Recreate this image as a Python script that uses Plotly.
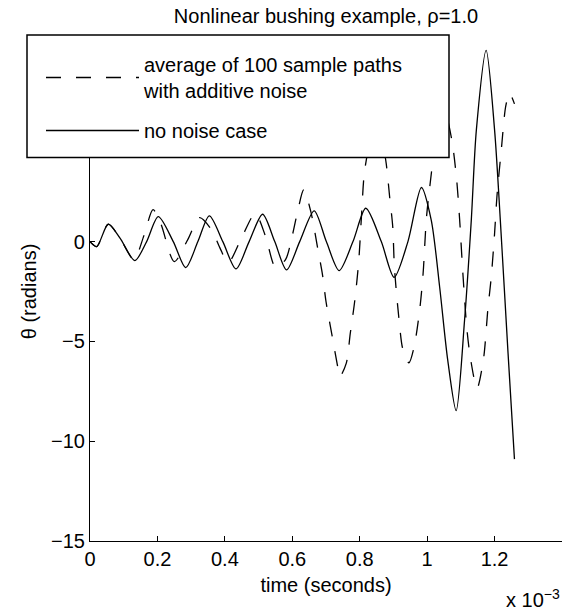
import plotly.graph_objects as go

# ---- data (time in units of 1e-3 s, angle in radians) ----
t_clean = [0, 0.02, 0.054, 0.089, 0.133, 0.168, 0.2025, 0.247, 0.284, 0.32, 0.354,
           0.394, 0.433, 0.472, 0.512, 0.548, 0.583, 0.622, 0.665, 0.701, 0.739,
           0.78, 0.818, 0.864, 0.902, 0.943, 0.983, 1.012, 1.037, 1.061, 1.086,
           1.111, 1.131, 1.146, 1.175, 1.2, 1.217, 1.24, 1.259]
theta_clean = [0, -0.25, 0.87, 0.17, -0.95, 0.0, 1.25, 0.0, -1.3, 0.0, 1.29,
               0.0, -1.37, 0.0, 1.37, 0.0, -1.42, 0.0, 1.54, 0.0, -1.45,
               0.0, 1.67, 0.0, -1.79, 0.0, 2.71, 1.09, -2.26, -5.93, -8.47,
               -3.93, 1.09, 5.6, 9.58, 5.6, 1.09, -5.6, -10.9]

t_noise = [0, 0.02, 0.054, 0.089, 0.13, 0.16, 0.187, 0.21, 0.25, 0.29, 0.325,
           0.36, 0.385, 0.41, 0.45, 0.49, 0.52, 0.551, 0.58, 0.6, 0.617, 0.634,
           0.655, 0.675, 0.69, 0.70, 0.72, 0.735, 0.741, 0.76, 0.772, 0.785,
           0.797, 0.806, 0.815, 0.85, 0.877, 0.889, 0.898, 0.903, 0.916, 0.928,
           0.946, 0.961, 0.978, 0.988, 0.998, 1.013, 1.04, 1.072, 1.087, 1.096,
           1.106, 1.118, 1.129, 1.148, 1.167, 1.18, 1.19, 1.2, 1.207, 1.22,
           1.233, 1.244, 1.259]
theta_noise = [0, -0.25, 0.87, 0.17, -0.9, 0.3, 1.6, 0.9, -1.0, 0.1, 1.2,
               0.6, -0.3, -1.05, 0.2, 1.4, 0.3, -1.3, -0.9, 0.3, 1.6, 2.6,
               1.5, -0.3, -1.7, -3.0, -4.9, -6.3, -6.77, -6.1, -4.6, -3.0,
               -1.0, 1.5, 3.6, 6.3, 4.1, 2.2, 0.74, -1.3, -3.8, -5.4,
               -6.07, -5.3, -3.4, -1.6, 1.2, 3.5, 7.3, 5.2, 3.2, 1.2,
               -1.6, -4.4, -5.9, -7.35, -5.9, -3.4, -1.8, 0.4, 2.26, 4.6,
               6.77, 7.44, 6.9]

x_ticks = [0, 0.2, 0.4, 0.6, 0.8, 1.0, 1.2]
y_ticks = [-15, -10, -5, 0, 5, 10]

name_noise = "average of 100 sample paths<br>with additive noise"
name_clean = "no noise case"
title_text = "Nonlinear bushing example, \u03c1=1.0"

# ---- layout geometry (pixels) ----
W, H = 567, 615
ML, MR, MT, MB = 90, 5, 42, 74
PW, PH = W - ML - MR, H - MT - MB

def px_x(p):
    return (p - ML) / PW

def px_y(p):
    return (H - MB - p) / PH

FONT = "Liberation Sans, Arial, Helvetica, sans-serif"

fig = go.Figure()
fig.add_trace(go.Scatter(
    x=t_noise, y=theta_noise, mode="lines", name=name_noise,
    line=dict(color="black", width=1.3, dash="15px,15px", shape="spline", smoothing=0.8),
    legendgroup="a"))
fig.add_trace(go.Scatter(
    x=t_clean, y=theta_clean, mode="lines", name=name_clean,
    line=dict(color="black", width=1.3, shape="spline", smoothing=0.8),
    legendgroup="b"))

axis_common = dict(showgrid=False, zeroline=False, showline=True, linecolor="black",
                   linewidth=1.2, ticks="inside", ticklen=5, tickcolor="black",
                   tickwidth=1, mirror=False,
                   tickfont=dict(family=FONT, size=20, color="black"))

fig.update_layout(
    width=W, height=H,
    margin=dict(l=ML, r=MR, t=MT, b=MB, autoexpand=False),
    paper_bgcolor="white", plot_bgcolor="white",
    font=dict(family=FONT, size=20, color="black"),
    title=dict(text=title_text, x=0.5, xref="paper", xanchor="center",
               y=1 - 16 / H, yanchor="middle",
               font=dict(family=FONT, size=20, color="black")),
    xaxis=dict(range=[0, 1.4], tickvals=x_ticks,
               title=dict(text="time (seconds)", standoff=8,
                          font=dict(family=FONT, size=20, color="black")),
               **axis_common),
    yaxis=dict(range=[-15, 10], tickvals=y_ticks,
               title=dict(text="\u03b8 (radians)", standoff=8,
                          font=dict(family=FONT, size=20, color="black")),
               **axis_common),
    showlegend=True,
    legend=dict(x=px_x(41), y=px_y(45), xanchor="left", yanchor="top",
                bgcolor="rgba(0,0,0,0)", borderwidth=0, itemwidth=93,
                traceorder="grouped", tracegroupgap=11,
                font=dict(family=FONT, size=20, color="black")),
    shapes=[dict(type="rect", xref="paper", yref="paper",
                 x0=px_x(27), x1=px_x(449), y0=px_y(157.5), y1=px_y(35),
                 fillcolor="white", line=dict(color="black", width=1.5),
                 layer="above")],
    annotations=[dict(text="x 10<sup>\u22123</sup>", xref="paper", yref="paper",
                      x=1.0, y=px_y(598), xanchor="right", yanchor="middle",
                      showarrow=False,
                      font=dict(family=FONT, size=20, color="black"))],
)

fig.write_html("out.html")
